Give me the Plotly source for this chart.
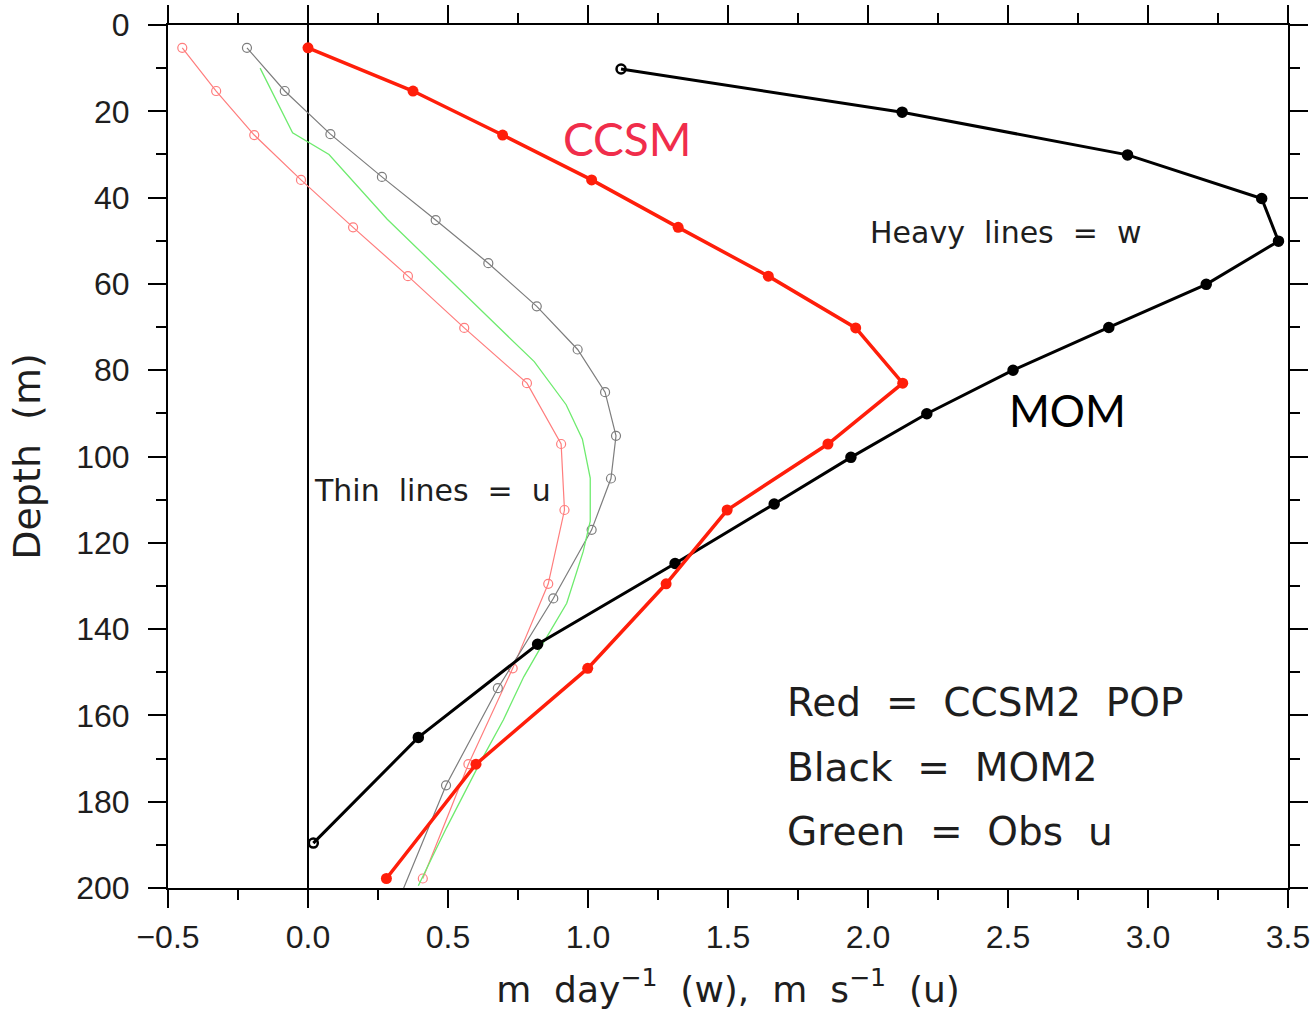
import plotly.graph_objects as go

# Depth levels (m)
pop_depth = [5.3, 15.3, 25.5, 35.9, 46.9, 58.2, 70.2, 83.0, 97.1, 112.4, 129.5, 149.1, 171.3, 197.8]
mom_w_depth = [10.2, 20.2, 30.1, 40.2, 50.1, 60.1, 70.1, 80.0, 90.1, 100.2, 111.0, 124.8, 143.5, 165.1, 189.6]
mom_u_depth = [5.3, 15.3, 25.3, 35.2, 45.2, 55.2, 65.2, 75.2, 85.1, 95.2, 105.1, 117.0, 132.9, 153.7, 176.2, 205.0]
obs_depth = [10, 25, 30, 45, 70, 78, 88, 96, 105, 115, 122, 134, 143, 151, 161, 171, 186, 199.5]

# Vertical velocity w (m/day)
ccsm_w = [0.0, 0.375, 0.695, 1.013, 1.322, 1.644, 1.956, 2.124, 1.857, 1.497, 1.279, 0.999, 0.600, 0.280]
mom_w = [1.118, 2.122, 2.927, 3.406, 3.466, 3.208, 2.860, 2.518, 2.210, 1.939, 1.665, 1.311, 0.820, 0.394, 0.019]

# Zonal velocity u (m/s)
ccsm_u = [-0.449, -0.328, -0.192, -0.025, 0.161, 0.357, 0.558, 0.782, 0.904, 0.916, 0.858, 0.731, 0.573, 0.410]
mom_u = [-0.218, -0.083, 0.080, 0.264, 0.456, 0.644, 0.817, 0.963, 1.061, 1.100, 1.082, 1.013, 0.876, 0.678, 0.493, 0.310]
obs_u = [-0.171, -0.055, 0.075, 0.283, 0.680, 0.808, 0.922, 0.980, 1.008, 1.008, 0.983, 0.924, 0.842, 0.771, 0.698, 0.614, 0.495, 0.394]

x_ticks = [-0.5, 0.0, 0.5, 1.0, 1.5, 2.0, 2.5, 3.0, 3.5]
y_ticks = [0, 20, 40, 60, 80, 100, 120, 140, 160, 180, 200]

RED = "rgb(255,30,10)"
PINK = "rgb(255,125,125)"
GRAY = "rgb(125,125,125)"
GREEN = "rgb(110,235,110)"
TXT = "rgb(30,30,30)"
FONT = "DejaVu Sans"
NB = "\u00a0\u00a0"

fig = go.Figure()

# Thin lines: u profiles
fig.add_trace(go.Scatter(x=ccsm_u, y=pop_depth, mode="lines+markers",
                         line=dict(color=PINK, width=1.2),
                         marker=dict(symbol="circle-open", size=9, color=PINK, line=dict(width=1.2))))
fig.add_trace(go.Scatter(x=mom_u, y=mom_u_depth, mode="lines+markers",
                         line=dict(color=GRAY, width=1.2),
                         marker=dict(symbol="circle-open", size=9, color=GRAY, line=dict(width=1.2))))
fig.add_trace(go.Scatter(x=obs_u, y=obs_depth, mode="lines",
                         line=dict(color=GREEN, width=1.3)))

# Heavy lines: w profiles
fig.add_trace(go.Scatter(x=mom_w, y=mom_w_depth, mode="lines+markers",
                         line=dict(color="black", width=3),
                         marker=dict(symbol=["circle-open"] + ["circle"] * (len(mom_w) - 2) + ["circle-open"],
                                     size=9, color="black", line=dict(width=2.5, color="black"))))
fig.add_trace(go.Scatter(x=ccsm_w, y=pop_depth, mode="lines+markers",
                         line=dict(color=RED, width=3.5),
                         marker=dict(symbol="circle", size=11, color=RED)))

# Zero line
fig.add_shape(type="line", x0=0, x1=0, y0=0, y1=200, xref="x", yref="y",
              line=dict(color="black", width=2), layer="below")

annos = [
    dict(x=1.139, y=26.2, text="CCSM", font=dict(family="Lato", size=46, color="rgb(240,45,75)"), xanchor="center"),
    dict(x=2.714, y=89.2, text="MOM", font=dict(family="Lato", size=44, color="black"), xanchor="center"),
    dict(x=2.0, y=48.0, text=f"Heavy{NB}lines{NB}={NB}w", font=dict(family=FONT, size=30, color=TXT), xanchor="left"),
    dict(x=0.014, y=107.8, text=f"Thin{NB}lines{NB}={NB}u", font=dict(family=FONT, size=30, color=TXT), xanchor="left"),
    dict(x=1.704, y=157.1, text=f"Red{NB}={NB}CCSM2{NB}POP", font=dict(family=FONT, size=39, color=TXT), xanchor="left"),
    dict(x=1.704, y=172.0, text=f"Black{NB}={NB}MOM2", font=dict(family=FONT, size=39, color=TXT), xanchor="left"),
    dict(x=1.704, y=187.0, text=f"Green{NB}={NB}Obs{NB}u", font=dict(family=FONT, size=39, color=TXT), xanchor="left"),
]
for a in annos:
    fig.add_annotation(xref="x", yref="y", showarrow=False, yanchor="middle", **a)

axis_common = dict(showline=True, linecolor="black", linewidth=2, mirror="allticks",
                   ticks="outside", tickwidth=2, ticklen=18, tickcolor="black",
                   showgrid=False, zeroline=False, automargin=False,
                   tickfont=dict(family="Liberation Sans Narrow, Liberation Sans", size=32, color=TXT))

fig.update_xaxes(range=[-0.5, 3.5], tickvals=x_ticks, ticktext=[f"{v:.1f}".replace("-", "\u2212") for v in x_ticks],
                 minor=dict(dtick=0.25, ticklen=10, tickwidth=2, tickcolor="black", ticks="outside"),
                 ticklabelstandoff=2,
                 title=dict(text=f"m{NB}day<sup>\u22121</sup>{NB}(w),{NB}m{NB}s<sup>\u22121</sup>{NB}(u)",
                            font=dict(family=FONT, size=36, color=TXT), standoff=22),
                 **axis_common)
fig.update_yaxes(range=[200, 0], tickvals=y_ticks,
                 minor=dict(dtick=10, ticklen=10, tickwidth=2, tickcolor="black", ticks="outside"),
                 ticklabelstandoff=12,
                 title=dict(text=f"Depth{NB}(m)", font=dict(family=FONT, size=38, color=TXT), standoff=24),
                 **axis_common)

fig.update_layout(width=1315, height=1015, margin=dict(l=168, r=27, t=25, b=127),
                  paper_bgcolor="white", plot_bgcolor="white", showlegend=False)

fig.write_html("out.html")
